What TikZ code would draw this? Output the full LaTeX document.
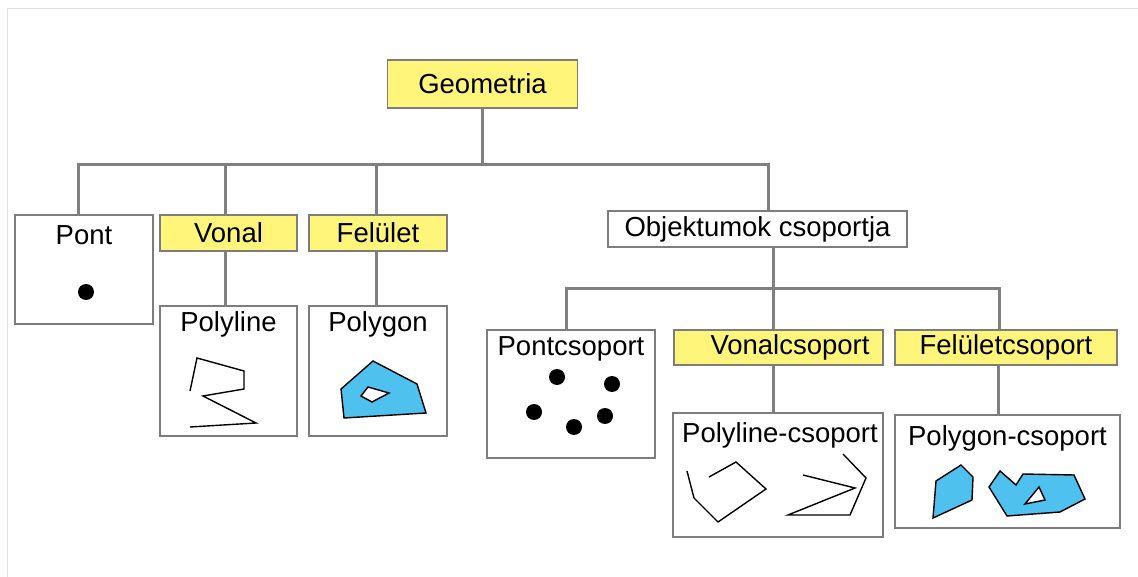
\documentclass[tikz,border=0pt]{standalone}
\usepackage{fontspec}
\setmainfont{Liberation Sans}
\usetikzlibrary{positioning}
\definecolor{geoyellow}{RGB}{255,245,122}
\definecolor{geoblue}{RGB}{78,193,238}
\definecolor{linegray}{RGB}{128,128,128}
\definecolor{boxgray}{RGB}{125,125,125}
\definecolor{framegray}{RGB}{225,225,225}

\begin{document}
\begin{tikzpicture}[x=1pt,y=-1pt,
        every node/.style={font=\fontsize{27.5}{33}\selectfont, inner sep=0pt},
        yellow box/.style={draw=boxgray, line width=1.5pt, fill=geoyellow},
        white box/.style={draw=boxgray, line width=1.5pt, fill=white},
        title/.style={anchor=base},
        tree line/.style={draw=linegray, line width=3pt},
        open shape/.style={line width=1.4pt},
        filled shape/.style={fill=geoblue, draw=black, line width=1.4pt},
        hole/.style={fill=white, draw=black, line width=1.4pt}]
        \useasboundingbox (0,0) rectangle (1138,577);
        \draw[framegray, line width=1pt] (7,577) -- (7,9) -- (1138,9);

        % boxes
        \node[yellow box, minimum width=190, minimum height=48] (geo)     at (482.5,84)  {Geometria};
        \node[white box,  minimum width=138, minimum height=109] (pont)   at (84,269.5)  {};
        \node[yellow box, minimum width=137, minimum height=36] (vonal)   at (228.5,233) {Vonal};
        \node[yellow box, minimum width=138, minimum height=36] (felulet) at (378,233)   {Felület};
        \node[white box,  minimum width=137, minimum height=130] (polyline) at (228.5,371) {};
        \node[white box,  minimum width=138, minimum height=130] (polygon)  at (378,371)   {};
        \node[white box,  minimum width=299, minimum height=36] (objekt)  at (757.5,229) {Objektumok csoportja};
        \node[white box,  minimum width=168, minimum height=128] (pontcs) at (571,394)   {};
        \node[yellow box, minimum width=209, minimum height=35] (vonalcs) at (778.5,347.5) {\hspace*{23pt}Vonalcsoport};
        \node[yellow box, minimum width=222, minimum height=35] (felcs)   at (1006,347.5) {Felületcsoport};
        \node[white box,  minimum width=210, minimum height=124] (polylinecs) at (778,475)    {};
        \node[white box,  minimum width=225, minimum height=113] (polygoncs)  at (1007.5,471.5) {};

        % titles
        \node[title] (ponttitle)       at ([yshift=-30]pont.north)       {Pont};
        \node[title] (polylinetitle)   at ([yshift=-26]polyline.north)   {Polyline};
        \node[title] (polygontitle)    at ([yshift=-26]polygon.north)    {Polygon};
        \node[title] (pontcstitle)     at ([yshift=-26]pontcs.north)     {Pontcsoport};
        \node[title] (polylinecstitle) at ([xshift=2,yshift=-30]polylinecs.north) {Polyline-csoport};
        \node[title] (polygoncstitle)  at ([yshift=-31]polygoncs.north)  {Polygon-csoport};

        % tree
        \draw[tree line] (geo.south) -- ++(0,57);
        \draw[tree line] ([xshift=-6]pont.north) -- ++(0,-50) -| ([xshift=10.5]objekt.north);
        \draw[tree line] ([xshift=-3.5]vonal.north) -- ++(0,-50);
        \draw[tree line] ([xshift=-2]felulet.north) -- ++(0,-50);
        \draw[tree line] ([xshift=-3.5]vonal.south) -- ([xshift=-3.5]polyline.north);
        \draw[tree line] ([xshift=-2]felulet.south) -- ([xshift=-2]polygon.north);
        \draw[tree line] ([xshift=15.5]objekt.south) -- ++(0,42);
        \draw[tree line] ([xshift=-5]pontcs.north) -- ++(0,-41) -| ([xshift=-7]felcs.north);
        \draw[tree line] ([xshift=-5.5]vonalcs.north) -- ++(0,-41);
        \draw[tree line] ([xshift=-5.5]vonalcs.south) -- ([xshift=-5]polylinecs.north);
        \draw[tree line] ([xshift=-8]felcs.south) -- ([xshift=-9.5]polygoncs.north);

        % points
        \fill (86,292) circle (8);
        \foreach \p in {(557,377),(612,384),(534,412),(605,416),(574,427)}
          \fill \p circle (8);

        % lines
        \draw[open shape] (190,391) -- (197,358) -- (244,371) -- (244,389) -- (203,396) -- (256,423) -- (190,427);
        \draw[open shape] (687,471) -- (694,498) -- (718,522) -- (766,489) -- (736,462) -- (709,477);
        \draw[open shape] (803,475) -- (855,488) -- (788,515) -- (850,515) -- (866,478) -- (843,454);

        % areas
        \draw[filled shape] (373,361) -- (417,384) -- (426,413) -- (344,418) -- (341,389) -- cycle;
        \draw[hole] (361,396) -- (368,387) -- (389,393) -- (372,402) -- cycle;
        \draw[filled shape] (936,481) -- (961,465) -- (973,477) -- (972,500) -- (933,518) -- cycle;
        \draw[filled shape] (989,487) -- (1000,471) -- (1016,485) -- (1023,474) -- (1074,475) -- (1085,499) -- (1060,512) -- (1007,516) -- cycle;
        \draw[hole] (1039,487) -- (1045,500) -- (1025,504) -- cycle;
\end{tikzpicture}
\end{document}
